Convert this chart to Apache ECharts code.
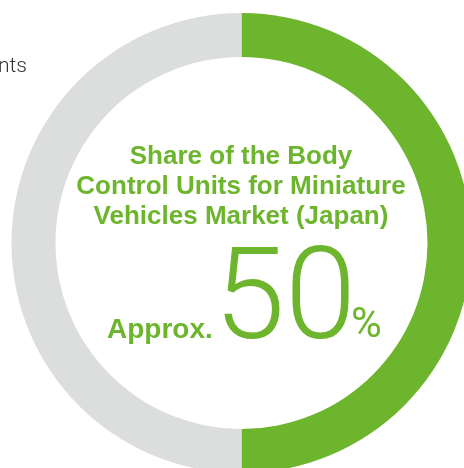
<!DOCTYPE html>
<html><head><meta charset="utf-8">
<script src="https://cdn.jsdelivr.net/npm/echarts@6/dist/echarts.min.js"></script>
<style>html,body{margin:0;padding:0;background:#fff}#c{width:464px;height:468px}</style>
</head><body><div id="c"></div>
<script>
const categories = ['Share', 'Others'];
const shareValues = [50, 50];
const titleLines = ['Share of the Body', 'Control Units for Miniature', 'Vehicles Market (Japan)'];
const prefixText = 'Approx.';
const valueText = '50';
const unitText = '%';
const cutText = 'nts';

const green = '#6cb52d';
const gray = '#dcdddd';
const chart = echarts.init(document.getElementById('c'));
const light = 'Roboto, "Open Sans", sans-serif';
const bold = '"Liberation Sans", Arial, sans-serif';
// place text so that its alphabetic baseline is at `base`
function txt(text, x, base, size, family, weight, align) {
  return {type: 'text', x: x, y: base - 0.74 * size,
    style: {text: text, font: weight + ' ' + size + 'px ' + family, fill: green, align: align, verticalAlign: 'top'}};
}
chart.setOption({
  animation: false,
  series: [{
    type: 'pie',
    center: [241.5, 243],
    radius: [186, 230],
    startAngle: 90,
    clockwise: true,
    silent: true,
    label: {show: false},
    labelLine: {show: false},
    data: categories.map((c, i) => ({name: c, value: shareValues[i], itemStyle: {color: i === 0 ? green : gray}}))
  }],
  graphic: [
    {type: 'text', left: -2, top: 56, style: {text: cutText, font: '300 21px ' + light, fill: '#333'}},
    ...titleLines.map((t, i) => txt(t, 241, 163 + i * 30, 26, bold, 'bold', 'center')),
    txt(prefixText, 107, 337, 28, bold, 'bold', 'left'),
    txt(valueText, 214, 337, 128, light, '300', 'left'),
    txt(unitText, 351, 337, 42, light, '400', 'left')
  ]
});
</script></body></html>
